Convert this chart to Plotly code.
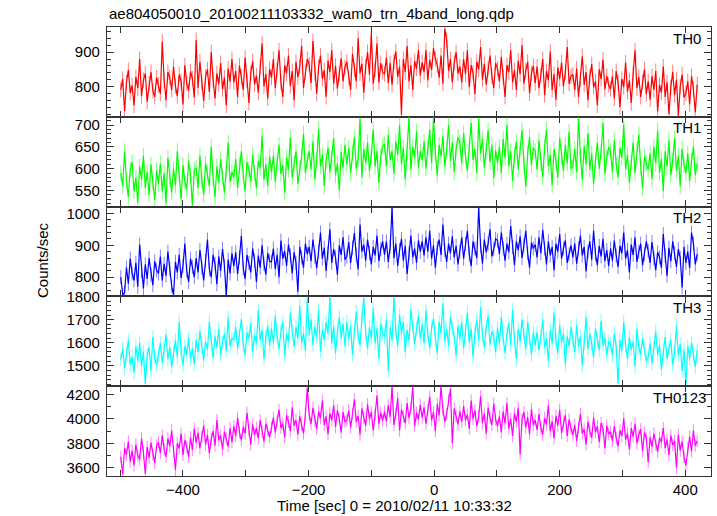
import plotly.graph_objects as go
from plotly.subplots import make_subplots

# Time binning of the light curve (seconds relative to 2010/02/11 10:33:32)
T_START = -499
T_STEP = 3

# Counts/sec values (3 s samples)
th0 = [
    790, 822, 728, 812, 848, 781, 803, 745, 828, 795, 880, 772, 818, 838, 756, 809, 842, 788, 770, 826,
    805, 779, 930, 818, 760, 842, 826, 790, 858, 801, 772, 835, 816, 748, 862, 809, 788, 844, 823, 768,
    935, 796, 872, 811, 758, 828, 850, 784, 900, 819, 765, 838, 806, 868, 792, 826, 745, 852, 814, 880,
    812, 845, 770, 861, 829, 790, 884, 818, 752, 840, 873, 806, 832, 782, 858, 925, 800, 836, 765, 851,
    826, 880, 795, 848, 905, 812, 770, 862, 838, 890, 801, 845, 760, 872, 827, 858, 918, 796, 842, 880,
    864, 810, 932, 838, 779, 856, 890, 822, 848, 770, 875, 842, 905, 808, 860, 794, 838, 882, 815, 856,
    872, 826, 790, 895, 848, 815, 940, 838, 866, 782, 858, 900, 834, 955, 808, 850, 925, 812, 868, 842,
    836, 884, 810, 868, 805, 872, 902, 828, 858, 718, 880, 842, 918, 815, 862, 790, 874, 852, 906, 832,
    870, 842, 905, 818, 878, 848, 912, 880, 862, 826, 890, 808, 968, 935, 845, 880, 812, 868, 900, 838,
    858, 812, 880, 836, 905, 798, 862, 840, 778, 872, 850, 915, 820, 866, 805, 852, 890, 830, 795, 868,
    852, 815, 886, 828, 770, 862, 842, 905, 812, 848, 790, 875, 836, 920, 808, 846, 872, 780, 838, 860,
    810, 858, 795, 832, 880, 775, 845, 818, 902, 790, 836, 762, 855, 822, 870, 800, 842, 915, 808, 830,
    835, 790, 852, 770, 820, 888, 805, 842, 760, 828, 865, 798, 815, 745, 850, 822, 878, 792, 830, 805,
    792, 830, 765, 845, 812, 740, 822, 798, 870, 785, 818, 752, 838, 905, 795, 828, 770, 812, 850, 778,
    815, 762, 830, 790, 845, 728, 805, 782, 858, 770, 812, 720, 798, 842, 775, 820, 715, 800, 835, 768,
    780, 815, 748, 830, 792, 725, 806,
]

th1 = [
    590, 560, 640, 572, 535, 598, 615, 548, 580, 522, 605, 575, 630, 556, 592, 540, 610, 568, 528, 596,
    565, 612, 548, 590, 520, 625, 578, 545, 600, 562, 640, 586, 530, 608, 570, 552, 618, 584, 515, 597,
    602, 556, 630, 575, 540, 612, 590, 560, 650, 578, 535, 605, 568, 622, 582, 545, 598, 660, 570, 592,
    580, 622, 556, 608, 640, 585, 548, 615, 598, 570, 632, 590, 555, 618, 602, 676, 575, 610, 560, 628,
    592, 630, 570, 615, 655, 588, 608, 545, 625, 598, 672, 580, 612, 640, 565, 602, 628, 680, 590, 618,
    640, 598, 662, 575, 620, 690, 605, 632, 560, 618, 648, 592, 625, 670, 585, 612, 550, 638, 602, 655,
    610, 648, 590, 635, 672, 600, 622, 715, 580, 645, 612, 660, 595, 630, 690, 605, 640, 568, 628, 652,
    655, 605, 678, 620, 640, 588, 662, 632, 700, 610, 648, 575, 635, 718, 598, 650, 625, 685, 602, 640,
    620, 662, 600, 648, 690, 612, 718, 635, 585, 655, 628, 675, 605, 642, 700, 618, 660, 592, 645, 672,
    660, 612, 682, 628, 595, 650, 705, 620, 645, 590, 715, 635, 668, 602, 640, 688, 615, 655, 578, 642,
    612, 650, 590, 668, 625, 700, 605, 640, 572, 630, 662, 598, 645, 688, 615, 558, 635, 672, 608, 648,
    640, 598, 665, 612, 580, 650, 690, 605, 632, 562, 645, 618, 580, 670, 628, 595, 655, 612, 685, 600,
    605, 645, 592, 718, 628, 575, 652, 610, 682, 598, 635, 565, 618, 660, 600, 640, 705, 588, 625, 650,
    640, 592, 665, 610, 580, 648, 625, 702, 598, 632, 568, 615, 660, 590, 642, 678, 605, 555, 628, 612,
    598, 635, 575, 650, 612, 688, 590, 622, 548, 640, 605, 665, 585, 618, 670, 595, 630, 560, 645, 608,
    590, 635, 572, 618, 650, 585, 612,
]

th2 = [
    800, 745, 752, 830, 780, 858, 812, 790, 845, 770, 902, 818, 765, 840, 795, 860, 808, 775, 850, 822,
    812, 865, 790, 842, 805, 880, 826, 772, 745, 848, 815, 870, 798, 835, 905, 820, 785, 858, 832, 800,
    860, 815, 885, 830, 790, 852, 918, 825, 800, 870, 842, 778, 865, 820, 888, 836, 740, 855, 812, 875,
    835, 878, 810, 862, 930, 828, 795, 870, 845, 815, 890, 852, 785, 868, 830, 900, 842, 808, 875, 850,
    848, 890, 825, 870, 800, 915, 858, 882, 835, 902, 868, 812, 878, 845, 755, 895, 862, 830, 905, 872,
    895, 850, 918, 865, 828, 880, 940, 858, 892, 820, 875, 950, 845, 888, 862, 808, 900, 870, 925, 855,
    865, 910, 845, 892, 938, 870, 825, 965, 880, 902, 852, 918, 875, 840, 895, 868, 930, 850, 888, 912,
    870, 912, 848, 895, 1018, 860, 905, 835, 885, 920, 852, 898, 810, 875, 930, 862, 890, 845, 915, 880,
    912, 868, 925, 880, 945, 858, 900, 830, 892, 918, 870, 965, 885, 848, 905, 875, 928, 862, 898, 840,
    880, 925, 858, 905, 945, 872, 835, 912, 890, 860, 1018, 898, 842, 918, 878, 905, 950, 865, 888, 920,
    915, 872, 940, 890, 852, 905, 878, 960, 895, 838, 912, 885, 928, 860, 900, 945, 875, 830, 908, 890,
    902, 862, 925, 875, 948, 890, 840, 912, 868, 895, 822, 905, 880, 935, 858, 890, 915, 845, 872, 900,
    862, 905, 842, 890, 930, 868, 895, 818, 880, 912, 855, 945, 872, 838, 898, 865, 920, 850, 885, 835,
    890, 852, 915, 868, 832, 898, 875, 940, 858, 885, 815, 902, 870, 925, 848, 880, 905, 838, 872, 912,
    882, 845, 910, 860, 822, 878, 862, 830, 935, 868, 805, 892, 850, 912, 875, 832, 888, 860, 768, 895,
    845, 880, 828, 940, 905, 840, 872,
]

th3 = [
    1528, 1575, 1490, 1552, 1610, 1505, 1540, 1470, 1585, 1520, 1600, 1498, 1560, 1422, 1545, 1580, 1478, 1625, 1535, 1502,
    1545, 1598, 1512, 1570, 1635, 1528, 1580, 1495, 1555, 1612, 1538, 1690, 1565, 1502, 1585, 1548, 1620, 1530, 1575, 1508,
    1612, 1560, 1648, 1582, 1525, 1605, 1570, 1690, 1595, 1535, 1628, 1580, 1660, 1548, 1600, 1640, 1565, 1708, 1585, 1620,
    1612, 1668, 1575, 1630, 1702, 1590, 1548, 1645, 1620, 1685, 1560, 1632, 1598, 1740, 1610, 1655, 1530, 1625, 1672, 1588,
    1662, 1600, 1715, 1628, 1572, 1650, 1690, 1545, 1638, 1605, 1730, 1652, 1585, 1668, 1620, 1760, 1598, 1642, 1565, 1795,
    1635, 1700, 1590, 1668, 1625, 1742, 1562, 1655, 1612, 1688, 1640, 1800, 1598, 1672, 1555, 1645, 1710, 1620, 1682, 1585,
    1690, 1615, 1672, 1548, 1660, 1735, 1628, 1590, 1705, 1795, 1640, 1575, 1668, 1620, 1750, 1598, 1662, 1530, 1685, 1640,
    1625, 1700, 1480, 1668, 1610, 1798, 1650, 1585, 1722, 1640, 1690, 1560, 1655, 1610, 1745, 1675, 1595, 1660, 1715, 1620,
    1680, 1598, 1740, 1635, 1575, 1662, 1705, 1618, 1555, 1690, 1642, 1770, 1605, 1658, 1588, 1712, 1665, 1625, 1545, 1672,
    1618, 1690, 1575, 1652, 1728, 1600, 1660, 1540, 1645, 1698, 1610, 1755, 1632, 1580, 1668, 1715, 1592, 1650, 1625, 1560,
    1665, 1598, 1712, 1620, 1555, 1640, 1685, 1590, 1742, 1612, 1530, 1658, 1605, 1700, 1635, 1572, 1690, 1618, 1548, 1645,
    1590, 1645, 1568, 1625, 1702, 1580, 1618, 1520, 1655, 1598, 1730, 1612, 1555, 1675, 1600, 1640, 1505, 1628, 1585, 1668,
    1612, 1560, 1675, 1585, 1628, 1502, 1600, 1710, 1572, 1640, 1595, 1535, 1662, 1608, 1568, 1695, 1588, 1620, 1545, 1605,
    1595, 1545, 1640, 1580, 1422, 1612, 1565, 1690, 1588, 1530, 1625, 1570, 1605, 1498, 1660, 1582, 1550, 1618, 1575, 1520,
    1540, 1598, 1510, 1575, 1650, 1548, 1590, 1485, 1568, 1625, 1530, 1580, 1612, 1505, 1560, 1672, 1545, 1595, 1478, 1570,
    1415, 1585, 1530, 1602, 1548, 1495, 1568,
]

th0123 = [
    3690, 3545, 3760, 3705, 3815, 3650, 3740, 3620, 3790, 3700, 3668, 3840, 3725, 3552, 3770, 3680, 3805, 3710, 3640, 3782,
    3810, 3720, 3865, 3750, 3690, 3840, 3775, 3905, 3735, 3585, 3800, 3760, 3880, 3705, 3825, 3770, 3690, 3850, 3745, 3920,
    3805, 3885, 3760, 3850, 3945, 3790, 3870, 3720, 3835, 3900, 3780, 3990, 3825, 3865, 3750, 3895, 3840, 3775, 3925, 3810,
    3940, 3860, 4010, 3890, 3825, 3935, 3880, 4050, 3910, 3790, 3955, 3870, 3925, 3840, 3990, 3895, 3815, 3960, 3905, 3850,
    3930, 4010, 3890, 3980, 4075, 3925, 3960, 3850, 4030, 3975, 3900, 4095, 3945, 3990, 3870, 4020, 3955, 3880, 4040, 4255,
    4035, 3960, 4090, 3985, 3920, 4060, 4005, 4150, 3950, 4020, 3875, 4045, 3990, 4110, 3935, 4070, 4000, 3890, 4055, 3975,
    3990, 4070, 3930, 4040, 4160, 3975, 4025, 3870, 4085, 4010, 3945, 4120, 4000, 4055, 3905, 4035, 4190, 3960, 4050, 3985,
    4060, 3980, 4110, 4015, 4265, 3950, 4040, 4170, 3905, 4075, 4020, 3965, 4130, 4005, 4085, 4262, 3940, 4050, 3995, 4115,
    4010, 4095, 3960, 4070, 4180, 3990, 4055, 3900, 4120, 4030, 4265, 4075, 3975, 4040, 4150, 4245, 3800, 4085, 4020, 3955,
    4060, 3975, 4105, 3990, 4035, 3920, 4150, 4000, 4070, 3940, 4020, 4185, 3965, 4045, 3880, 4090, 4010, 3950, 4125, 3995,
    3940, 4020, 3890, 4060, 3965, 4130, 3920, 4000, 3860, 4045, 3975, 4090, 3710, 3995, 4055, 3930, 4015, 3875, 4080, 3950,
    3990, 3910, 4040, 3930, 3870, 4005, 3955, 4110, 3900, 3980, 3840, 4025, 3945, 4075, 3885, 3970, 4030, 3860, 3995, 3920,
    3870, 3950, 3820, 3930, 4040, 3880, 3915, 3790, 3975, 3900, 3845, 4010, 3890, 3940, 3810, 3965, 3920, 3760, 3945, 3875,
    3895, 3820, 3940, 3845, 3775, 3905, 3860, 4005, 3830, 3880, 3750, 3925, 3855, 3960, 3800, 3870, 3915, 3735, 3890, 3840,
    3645, 3850, 3770, 3880, 3790, 3730, 3845, 3810, 3925, 3760, 3830, 3705, 3865, 3785, 3820, 3600, 3870, 3740, 3815, 3690,
    3620, 3760, 3855, 3735, 3905, 3780, 3820,
]

# Typical 1-sigma error of a single sample in each band (counts/sec)
band_errors = [22, 18, 22, 30, 50]

band_names = ["TH0", "TH1", "TH2", "TH3", "TH0123"]
band_values = [th0, th1, th2, th3, th0123]
band_colors = ["#ff0000", "#00ff00", "#0000ff", "#00ffff", "#ff00ff"]
err_colors = ["rgba(255,0,0,0.5)", "rgba(0,255,0,0.5)", "rgba(0,0,255,0.5)",
              "rgba(0,255,255,0.5)", "rgba(255,0,255,0.5)"]
y_ranges = [[712, 973], [513, 719], [740, 1021], [1412, 1800.5], [3533, 4267]]
y_dticks = [100, 50, 100, 100, 200]
y_minor = [20, 10, 20, 20, 100]
label_x = [0.9868, 0.9868, 0.9868, 0.9868, 0.995]

FONT = "Liberation Sans, Arial, Helvetica, sans-serif"

fig = make_subplots(rows=5, cols=1, shared_xaxes=True, vertical_spacing=0)

for i, (name, vals, col) in enumerate(zip(band_names, band_values, band_colors)):
    t = [T_START + T_STEP * k for k in range(len(vals))]
    fig.add_trace(
        go.Scatter(x=t, y=vals, mode="lines", line=dict(color=col, width=1.2),
                   error_y=dict(type="constant", value=band_errors[i], color=err_colors[i],
                                thickness=1, width=0),
                   name=name, showlegend=False, hoverinfo="skip"),
        row=i + 1, col=1,
    )

for i in range(5):
    r = i + 1
    fig.update_yaxes(
        row=r, col=1, range=y_ranges[i], dtick=y_dticks[i], tick0=0,
        ticks="inside", ticklen=7, tickwidth=1, tickcolor="#333",
        minor=dict(dtick=y_minor[i], ticks="inside", ticklen=4, tickcolor="#333", showgrid=False),
        showline=True, linecolor="#333", linewidth=1.3, mirror="ticks",
        showgrid=False, zeroline=False,
        tickfont=dict(family=FONT, size=15, color="black"),
        ticklabelstandoff=3,
    )
    fig.update_xaxes(
        row=r, col=1, range=[-521, 441], dtick=200, tick0=0,
        ticks="inside", ticklen=6, tickwidth=1, tickcolor="#333",
        minor=dict(dtick=100, ticks="inside", ticklen=6, tickcolor="#333", showgrid=False),
        showline=True, linecolor="#333", linewidth=1.3, mirror="ticks",
        showgrid=False, zeroline=False,
        showticklabels=(r == 5),
        tickfont=dict(family=FONT, size=15, color="black"),
    )
    yref = "y domain" if r == 1 else f"y{r} domain"
    fig.add_annotation(
        text=band_names[i], xref="paper", yref=yref, x=label_x[i], y=1,
        xanchor="right", yanchor="middle", yshift=-11, showarrow=False,
        font=dict(family=FONT, size=15, color="black"),
    )

fig.add_annotation(
    text="ae804050010_20100211103332_wam0_trn_4band_long.qdp",
    xref="paper", yref="paper", x=0, y=1, xanchor="left", yanchor="middle",
    yshift=14, showarrow=False, font=dict(family=FONT, size=15, color="black"),
)
fig.add_annotation(
    text="Counts/sec", xref="paper", yref="paper", x=-0.1076, y=0.481,
    xanchor="center", yanchor="middle", textangle=-90, showarrow=False,
    font=dict(family=FONT, size=15, color="black"),
)
fig.add_annotation(
    text="Time [sec] 0 = 2010/02/11 10:33:32", xref="paper", yref="paper",
    x=0.4768, y=-0.0668, xanchor="center", yanchor="middle", showarrow=False,
    font=dict(family=FONT, size=15, color="black"),
)

fig.update_layout(
    width=717, height=516,
    margin=dict(l=107, r=6, t=27, b=40),
    paper_bgcolor="white", plot_bgcolor="white",
    font=dict(family=FONT, size=15, color="black"),
    hovermode=False,
)

fig.write_html("out.html", config={"displayModeBar": False})

# Remove the browser's default body margin so the figure sits at the window origin
with open("out.html", "r", encoding="utf-8") as fh:
    html = fh.read()
html = html.replace("<head>", "<head><style>html,body{margin:0;padding:0;overflow:hidden;}</style>", 1)
with open("out.html", "w", encoding="utf-8") as fh:
    fh.write(html)
